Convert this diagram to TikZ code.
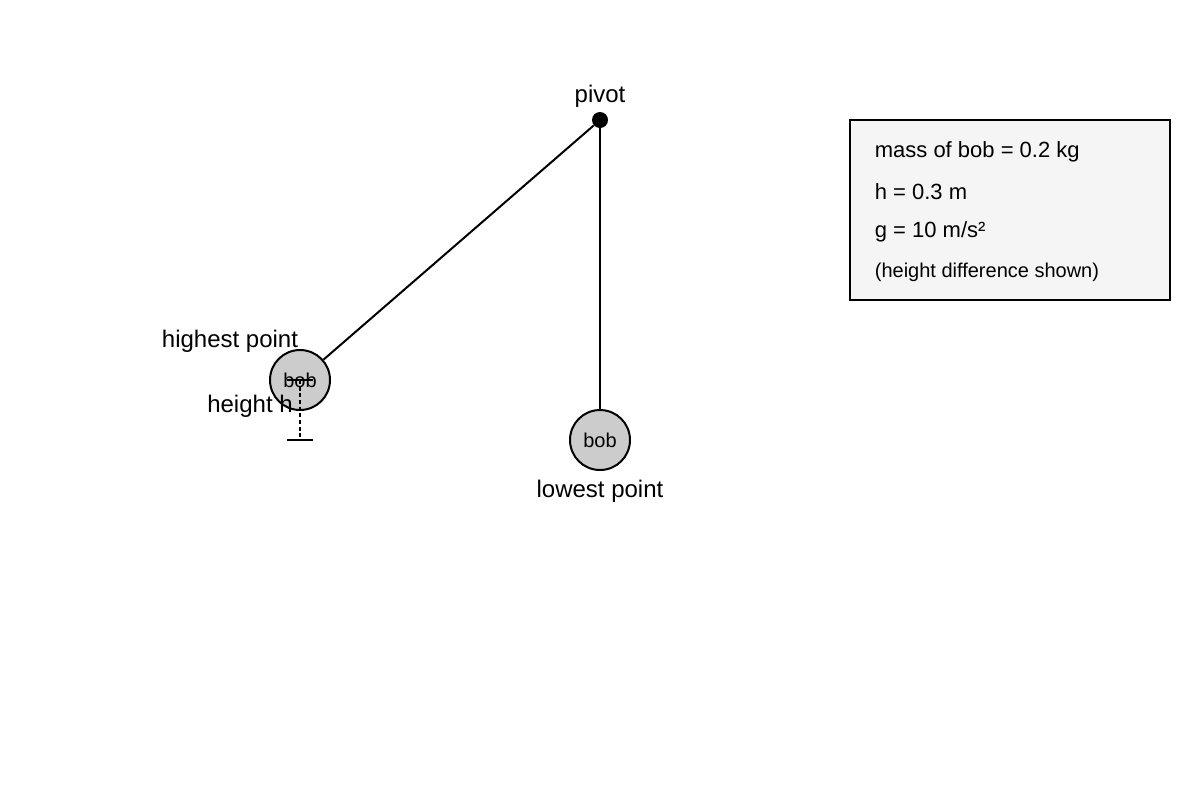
\documentclass[tikz,border=0pt]{standalone}
\usepackage{fontspec}
\setmainfont{Liberation Sans}
\begin{document}
\begin{tikzpicture}[x=0.75pt,y=-0.75pt,semithick,
  bob/.style={circle,draw,line width=1.5pt,fill=black!20,minimum size=45pt,inner sep=0pt,font=\fontsize{15}{18}\selectfont},
  lbl/.style={font=\fontsize{18}{22}\selectfont},
  info/.style={font=\fontsize{16.5}{20}\selectfont,anchor=west}]
  \useasboundingbox (0,0) rectangle (1200,800);

  \node[circle,fill,inner sep=0pt,minimum size=12pt] (pivot) at (600,120) {};
  \node[bob] (bobL) at (300,380) {bob};
  \node[bob] (bobR) at (600,440) {bob};

  \draw[line width=1.5pt] (pivot) -- (bobL);
  \draw[line width=1.5pt] (pivot) -- (bobR);

  \node[lbl] (pivotlbl) at (600,96) {pivot};
  \node[lbl] (high) at (230,341) {highest point};
  \node[lbl] (low) at (600,491) {lowest point};
  \node[lbl] (hlbl) at (250,406) {height h};

  % height marker
  \coordinate (top) at (300,380);
  \coordinate (bot) at (300,440);
  \draw[densely dashed,line width=1pt] (top) -- (bot);
  \draw[line width=1pt] ([xshift=-10]top) -- ([xshift=10]top);
  \draw[line width=1pt] ([xshift=-10]bot) -- ([xshift=10]bot);

  \draw[line width=1.5pt,fill=black!4] (850,120) rectangle (1170,300);
  \node[info] (m) at (870,152) {mass of bob = 0.2 kg};
  \node[info] (h) at (870,192) {h = 0.3 m};
  \node[info] (g) at (870,232) {g = 10 m/s²};
  \node[info,font=\fontsize{15}{18}\selectfont] (n) at (870,272) {(height difference shown)};
\end{tikzpicture}
\end{document}
